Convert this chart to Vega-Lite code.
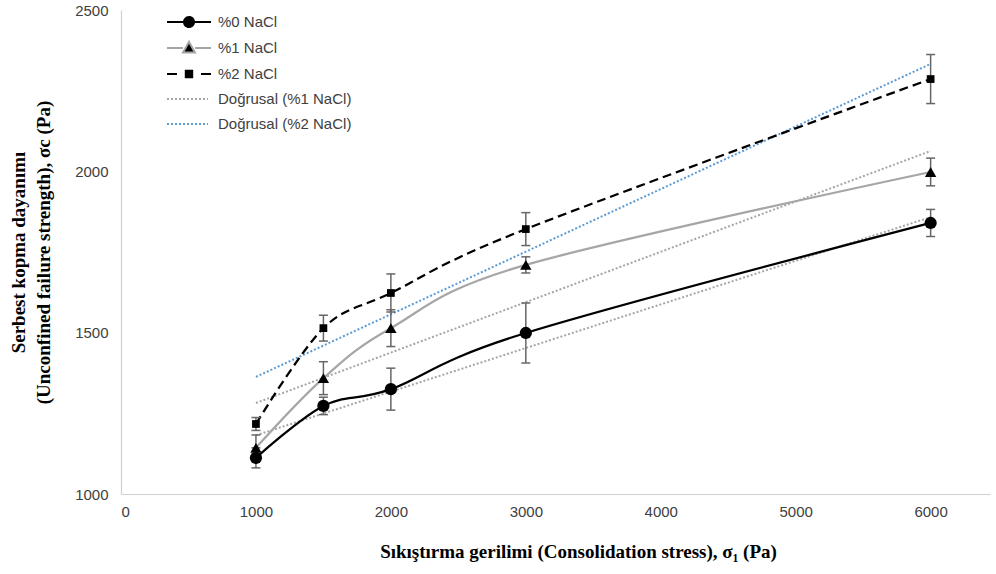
{
  "$schema": "https://vega.github.io/schema/vega-lite/v6.json",
  "width": 869,
  "height": 484,
  "autosize": {"type": "none"},
  "padding": {"left": 121, "top": 10, "right": 6, "bottom": 80},
  "background": "white",
  "config": {
    "view": {"stroke": null},
    "font": "Liberation Sans",
    "axis": {
      "grid": false,
      "ticks": false,
      "format": "d",
      "domainColor": "#d0d0d0",
      "domainWidth": 1.2,
      "labelFont": "Liberation Sans",
      "labelFontSize": 15,
      "labelColor": "#404040",
      "titleFont": "Liberation Serif",
      "titleFontSize": 19,
      "titleFontWeight": "bold",
      "titleColor": "#000000"
    }
  },
  "datasets": {
    "measurements": [
      {"series": "%0 NaCl", "stress": 1000, "strength": 1112, "low": 1081, "high": 1143},
      {"series": "%0 NaCl", "stress": 1500, "strength": 1273, "low": 1246, "high": 1300},
      {"series": "%0 NaCl", "stress": 2000, "strength": 1325, "low": 1260, "high": 1390},
      {"series": "%0 NaCl", "stress": 3000, "strength": 1499, "low": 1406, "high": 1592},
      {"series": "%0 NaCl", "stress": 6000, "strength": 1840, "low": 1798, "high": 1882},
      {"series": "%1 NaCl", "stress": 1000, "strength": 1143, "low": 1103, "high": 1183},
      {"series": "%1 NaCl", "stress": 1500, "strength": 1359, "low": 1308, "high": 1410},
      {"series": "%1 NaCl", "stress": 2000, "strength": 1514, "low": 1457, "high": 1571},
      {"series": "%1 NaCl", "stress": 3000, "strength": 1710, "low": 1685, "high": 1735},
      {"series": "%1 NaCl", "stress": 6000, "strength": 1998, "low": 1955, "high": 2041},
      {"series": "%2 NaCl", "stress": 1000, "strength": 1217, "low": 1197, "high": 1237},
      {"series": "%2 NaCl", "stress": 1500, "strength": 1514, "low": 1474, "high": 1554},
      {"series": "%2 NaCl", "stress": 2000, "strength": 1623, "low": 1564, "high": 1682},
      {"series": "%2 NaCl", "stress": 3000, "strength": 1821, "low": 1770, "high": 1872},
      {"series": "%2 NaCl", "stress": 6000, "strength": 2286, "low": 2210, "high": 2362}
    ],
    "trends": [
      {"series": "Doğrusal (%0 NaCl)", "stress": 1000, "strength": 1182},
      {"series": "Doğrusal (%0 NaCl)", "stress": 6000, "strength": 1858},
      {"series": "Doğrusal (%1 NaCl)", "stress": 1000, "strength": 1282},
      {"series": "Doğrusal (%1 NaCl)", "stress": 6000, "strength": 2063},
      {"series": "Doğrusal (%2 NaCl)", "stress": 1000, "strength": 1363},
      {"series": "Doğrusal (%2 NaCl)", "stress": 6000, "strength": 2333}
    ],
    "legendEntries": [
      {"series": "%0 NaCl"},
      {"series": "%1 NaCl"},
      {"series": "%2 NaCl"},
      {"series": "Doğrusal (%1 NaCl)"},
      {"series": "Doğrusal (%2 NaCl)"}
    ]
  },
  "encoding": {
    "x": {
      "field": "stress",
      "type": "quantitative",
      "scale": {"domain": [0, 6440], "nice": false, "zero": false},
      "axis": {
        "values": [0, 1000, 2000, 3000, 4000, 5000, 6000],
        "labelPadding": 10,
        "title": "Sıkıştırma gerilimi (Consolidation stress), σ₁ (Pa)",
        "titlePadding": 23,
        "titleX": 457
      }
    },
    "y": {
      "field": "strength",
      "type": "quantitative",
      "scale": {"domain": [1000, 2500], "nice": false, "zero": false},
      "axis": {
        "values": [1000, 1500, 2000, 2500],
        "labelPadding": 13,
        "title": ["Serbest kopma dayanımı", "(Unconfined failure strength), σc (Pa)"],
        "titleLineHeight": 25,
        "titlePadding": 21
      }
    }
  },
  "layer": [
    {
      "data": {"name": "trends"},
      "transform": [{"filter": "datum.series === 'Doğrusal (%0 NaCl)'"}],
      "mark": {"type": "line", "color": "#a6a6a6", "strokeWidth": 2, "strokeDash": [2, 2]},
      "encoding": {}
    },
    {
      "data": {"name": "trends"},
      "transform": [{"filter": "datum.series === 'Doğrusal (%1 NaCl)'"}],
      "mark": {"type": "line", "color": "#a6a6a6", "strokeWidth": 2, "strokeDash": [2, 2]},
      "encoding": {}
    },
    {
      "data": {"name": "trends"},
      "transform": [{"filter": "datum.series === 'Doğrusal (%2 NaCl)'"}],
      "mark": {"type": "line", "color": "#5b9bd5", "strokeWidth": 2, "strokeDash": [2, 2]},
      "encoding": {}
    },
    {
      "data": {"name": "measurements"},
      "transform": [{"filter": "datum.series === '%0 NaCl'"}],
      "mark": {"type": "line", "color": "#000000", "strokeWidth": 2.25, "interpolate": "cardinal"},
      "encoding": {}
    },
    {
      "data": {"name": "measurements"},
      "transform": [{"filter": "datum.series === '%1 NaCl'"}],
      "mark": {"type": "line", "color": "#a6a6a6", "strokeWidth": 2.25, "interpolate": "cardinal"},
      "encoding": {}
    },
    {
      "data": {"name": "measurements"},
      "transform": [{"filter": "datum.series === '%2 NaCl'"}],
      "mark": {"type": "line", "color": "#000000", "strokeWidth": 2.25, "strokeDash": [9, 5], "interpolate": "cardinal"},
      "encoding": {}
    },
    {
      "data": {"name": "measurements"},
      "mark": {"type": "rule", "color": "#666666", "strokeWidth": 1.5},
      "encoding": {
        "y": {"field": "low", "type": "quantitative"},
        "y2": {"field": "high"}
      }
    },
    {
      "data": {"name": "measurements"},
      "mark": {"type": "tick", "orient": "horizontal", "color": "#666666", "size": 9, "thickness": 1.5, "opacity": 1},
      "encoding": {"y": {"field": "low", "type": "quantitative"}}
    },
    {
      "data": {"name": "measurements"},
      "mark": {"type": "tick", "orient": "horizontal", "color": "#666666", "size": 9, "thickness": 1.5, "opacity": 1},
      "encoding": {"y": {"field": "high", "type": "quantitative"}}
    },
    {
      "data": {"name": "measurements"},
      "transform": [{"filter": "datum.series === '%0 NaCl'"}],
      "mark": {"type": "point", "shape": "circle", "filled": true, "color": "#000000", "size": 150, "opacity": 1}
    },
    {
      "data": {"name": "measurements"},
      "transform": [{"filter": "datum.series === '%1 NaCl'"}],
      "mark": {"type": "point", "shape": "triangle-up", "filled": true, "color": "#000000", "size": 130, "opacity": 1}
    },
    {
      "data": {"name": "measurements"},
      "transform": [{"filter": "datum.series === '%2 NaCl'"}],
      "mark": {"type": "point", "shape": "square", "filled": true, "color": "#000000", "size": 60, "opacity": 1}
    },
    {
      "data": {"name": "legendEntries"},
      "mark": {"type": "point", "filled": true, "opacity": 1, "strokeWidth": 2},
      "encoding": {
        "color": {
          "field": "series",
          "type": "nominal",
          "scale": {
            "domain": ["%0 NaCl", "%1 NaCl", "%2 NaCl", "Doğrusal (%1 NaCl)", "Doğrusal (%2 NaCl)"],
            "range": ["#000000", "#000000", "#000000", "transparent", "transparent"]
          },
          "legend": {
            "title": null,
            "orient": "none",
            "legendX": 57,
            "legendY": 1,
            "padding": 0,
            "symbolSize": 400,
            "symbolStrokeWidth": 2,
            "symbolOpacity": 1,
            "labelOffset": 18,
            "rowPadding": 6,
            "labelFont": "Liberation Sans",
            "labelFontSize": 15,
            "labelColor": "#404040"
          }
        },
        "stroke": {
          "field": "series",
          "type": "nominal",
          "scale": {
            "domain": ["%0 NaCl", "%1 NaCl", "%2 NaCl", "Doğrusal (%1 NaCl)", "Doğrusal (%2 NaCl)"],
            "range": ["#000000", "#a6a6a6", "#000000", "#a6a6a6", "#5b9bd5"]
          },
          "legend": {"title": null}
        },
        "shape": {
          "field": "series",
          "type": "nominal",
          "scale": {
            "domain": ["%0 NaCl", "%1 NaCl", "%2 NaCl", "Doğrusal (%1 NaCl)", "Doğrusal (%2 NaCl)"],
            "range": [
              "M-2.2,0H2.2M-0.5,0A0.5,0.5 0 1,0 0.5,0A0.5,0.5 0 1,0 -0.5,0Z",
              "M-2.2,0H-0.6M0.6,0H2.2M0,-0.62L0.6,0.45L-0.6,0.45Z",
              "M-2.2,0H-1.2M1.2,0H2.2M-0.32,-0.32H0.32V0.32H-0.32Z",
              "M-2.2,0H1.9",
              "M-2.2,0H1.9"
            ]
          },
          "legend": {"title": null}
        },
        "strokeDash": {
          "field": "series",
          "type": "nominal",
          "scale": {
            "domain": ["%0 NaCl", "%1 NaCl", "%2 NaCl", "Doğrusal (%1 NaCl)", "Doğrusal (%2 NaCl)"],
            "range": [[1, 0], [1, 0], [1, 0], [2, 2], [2, 2]]
          },
          "legend": {"title": null}
        }
      }
    }
  ]
}
